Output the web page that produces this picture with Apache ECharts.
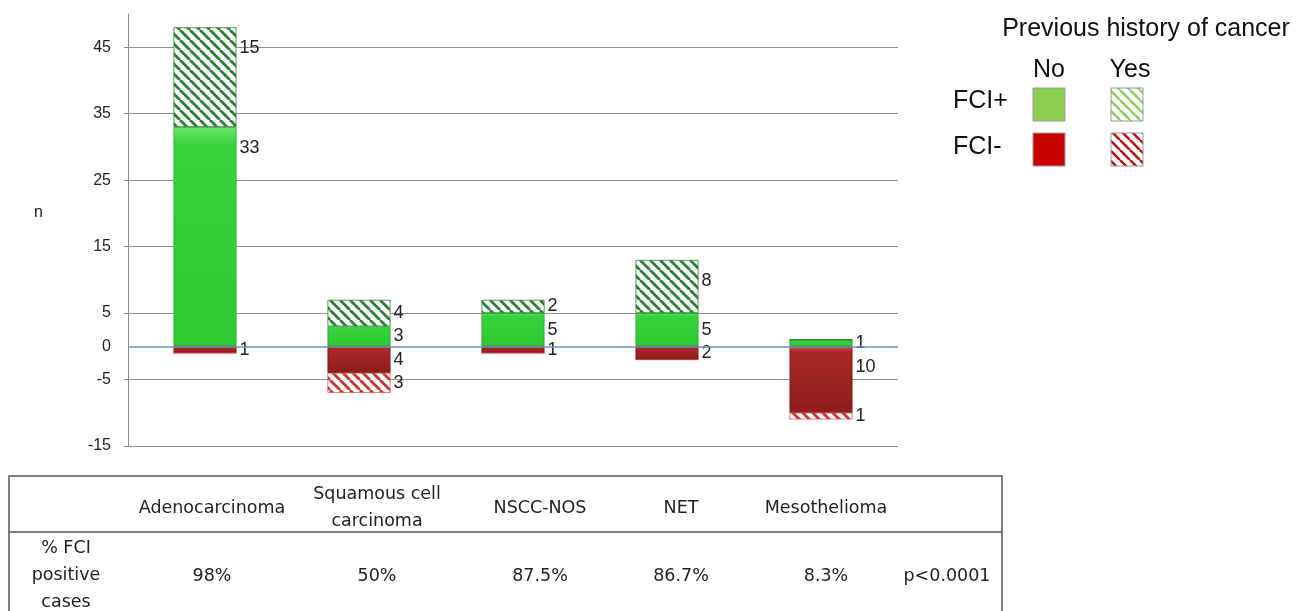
<!DOCTYPE html>
<html>
<head>
<meta charset="utf-8">
<script src="https://cdn.jsdelivr.net/npm/echarts@6/dist/echarts.min.js"></script>
<style>
html,body{margin:0;padding:0;background:#fff;}
#chart{width:1301px;height:611px;}
</style>
</head>
<body>
<div id="chart"></div>
<script>
// ---- data ----
const categories = ['Adenocarcinoma', 'Squamous cell carcinoma', 'NSCC-NOS', 'NET', 'Mesothelioma'];
const tableHeaders = [['Adenocarcinoma'], ['Squamous cell', 'carcinoma'], ['NSCC-NOS'], ['NET'], ['Mesothelioma']];
const fciPosNo = [33, 3, 5, 5, 1];
const fciPosYes = [15, 4, 2, 8, 0];
const fciNegNo = [1, 4, 1, 2, 10];
const fciNegYes = [0, 3, 0, 0, 1];
const pctPositive = ['98%', '50%', '87.5%', '86.7%', '8.3%'];
const rowLabel = ['% FCI', 'positive', 'cases'];
const pValue = 'p<0.0001';
const legendTitle = 'Previous history of cancer';
const legendCols = ['No', 'Yes'];
const legendRows = ['FCI+', 'FCI-'];
const yMin = -15, yMax = 50, yInterval = 10;

// ---- hatch patterns ----
function hatch(stripe, bg, size, lw) {
  const c = document.createElement('canvas');
  c.width = size; c.height = size;
  const g = c.getContext('2d');
  g.fillStyle = bg; g.fillRect(0, 0, size, size);
  g.strokeStyle = stripe; g.lineWidth = lw;
  for (const k of [-size, 0, size]) {
    g.beginPath(); g.moveTo(k, 0); g.lineTo(k + size, size); g.stroke();
  }
  return c;
}
const greenHatch = hatch('#2d7d35', '#ffffff', 10, 2.8);
const redHatch = hatch('#cc3333', '#ffffff', 10, 2.8);
const greenHatchLegend = hatch('#8ccc5a', '#ffffff', 10, 2.4);
const redHatchLegend = hatch('#b41515', '#ffffff', 10, 2.6);

const FONT = 'Liberation Sans, Arial, sans-serif';
const TFONT = 'DejaVu Sans, sans-serif';

const labelCfg = {
  show: true,
  position: 'right',
  fontSize: 18,
  color: '#222',
  fontFamily: FONT,
  formatter: p => (p.value === 0 ? '' : String(Math.abs(p.value)))
};
// place each value label beside the upper part of its segment
function labelLayout(params) {
  const r = params.rect;
  const top = Math.min(r.y, r.y + r.height);
  const h = Math.abs(r.height);
  return {
    x: Math.max(r.x, r.x + r.width) + 3,
    y: top + Math.min(h / 2, 21),
    align: 'left',
    verticalAlign: 'middle'
  };
}

function vgrad(top, mid, bot) {
  return {
    type: 'linear', x: 0, y: 0, x2: 0, y2: 1,
    colorStops: [{offset: 0, color: top}, {offset: 0.08, color: mid}, {offset: 1, color: bot}]
  };
}

const chart = echarts.init(document.getElementById('chart'), null, {renderer: 'canvas'});

// ---- table & legend graphics ----
const tableColX = [212, 377, 540, 681, 826];
const graphics = [];
graphics.push({type: 'text', left: 34, top: 205, style: {text: 'n', font: '16px ' + FONT, fill: '#222'}});
// legend
const LF = '25px ' + FONT;
graphics.push({type: 'text', x: 1146, y: 29, style: {text: legendTitle, font: LF, fill: '#111', align: 'center', verticalAlign: 'middle'}});
graphics.push({type: 'text', x: 1049, y: 70, style: {text: legendCols[0], font: LF, fill: '#111', align: 'center', verticalAlign: 'middle'}});
graphics.push({type: 'text', x: 1130, y: 70, style: {text: legendCols[1], font: LF, fill: '#111', align: 'center', verticalAlign: 'middle'}});
graphics.push({type: 'text', x: 953, y: 101, style: {text: legendRows[0], font: LF, fill: '#111', align: 'left', verticalAlign: 'middle'}});
graphics.push({type: 'text', x: 953, y: 147, style: {text: legendRows[1], font: LF, fill: '#111', align: 'left', verticalAlign: 'middle'}});
graphics.push({type: 'rect', shape: {x: 1033, y: 88, width: 32, height: 33}, style: {fill: '#8ccf4e', stroke: '#9a9a9a', lineWidth: 1}});
graphics.push({type: 'rect', shape: {x: 1111, y: 88, width: 32, height: 33}, style: {fill: {image: greenHatchLegend, repeat: 'repeat'}, stroke: '#9a9a9a', lineWidth: 1}});
graphics.push({type: 'rect', shape: {x: 1033, y: 133, width: 32, height: 33}, style: {fill: '#c80000', stroke: '#9a9a9a', lineWidth: 1}});
graphics.push({type: 'rect', shape: {x: 1111, y: 133, width: 32, height: 33}, style: {fill: {image: redHatchLegend, repeat: 'repeat'}, stroke: '#9a9a9a', lineWidth: 1}});
// table frame
graphics.push({type: 'polyline', shape: {points: [[9, 640], [9, 476], [1002, 476], [1002, 640]]}, style: {stroke: '#555', lineWidth: 1.5, fill: null}});
graphics.push({type: 'line', shape: {x1: 9, y1: 532, x2: 1002, y2: 532}, style: {stroke: '#555', lineWidth: 1.5}});
const TF = '17.5px ' + TFONT;
tableHeaders.forEach((lines, i) => {
  const y0 = lines.length === 1 ? 508 : 494;
  lines.forEach((t, j) => {
    graphics.push({type: 'text', x: tableColX[i], y: y0 + j * 27, style: {text: t, font: TF, fill: '#222', align: 'center', verticalAlign: 'middle'}});
  });
});
rowLabel.forEach((t, j) => {
  graphics.push({type: 'text', x: 66, y: 548 + j * 27, style: {text: t, font: TF, fill: '#222', align: 'center', verticalAlign: 'middle'}});
});
pctPositive.forEach((t, i) => {
  graphics.push({type: 'text', x: tableColX[i], y: 576, style: {text: t, font: TF, fill: '#222', align: 'center', verticalAlign: 'middle'}});
});
graphics.push({type: 'text', x: 947, y: 576, style: {text: pValue, font: TF, fill: '#222', align: 'center', verticalAlign: 'middle'}});

const option = {
  animation: false,
  backgroundColor: '#fff',
  grid: {left: 128, right: 403, top: 14, bottom: 165},
  xAxis: {
    type: 'category', data: categories,
    axisLine: {show: false}, axisTick: {show: false}, axisLabel: {show: false}, splitLine: {show: false}
  },
  yAxis: {
    type: 'value', min: yMin, max: yMax, interval: yInterval,
    axisLine: {show: true, lineStyle: {color: '#8a8a8a', width: 1}},
    axisTick: {show: true, length: 4, lineStyle: {color: '#8a8a8a'}},
    axisLabel: {fontSize: 16, color: '#222', fontFamily: FONT, margin: 17, showMaxLabel: false},
    splitLine: {show: true, showMaxLine: false, lineStyle: {color: '#8f8f8f', width: 1}}
  },
  series: [
    {
      name: 'FCI+ No', type: 'bar', stack: 'n', barWidth: 63, data: fciPosNo,
      itemStyle: {color: vgrad('#6fe56f', '#38d33c', '#2fc833'), borderColor: '#2aa02e', borderWidth: 0.8},
      label: labelCfg, labelLayout: labelLayout,
      markLine: {
        silent: true, symbol: 'none',
        lineStyle: {color: '#6f8fbf', width: 1.5, type: 'solid'},
        label: {show: true, position: 'start', formatter: '0', fontSize: 16, color: '#222', fontFamily: FONT, distance: 17},
        data: [{yAxis: 0}]
      }
    },
    {
      name: 'FCI+ Yes', type: 'bar', stack: 'n', barWidth: 63, data: fciPosYes,
      itemStyle: {color: {image: greenHatch, repeat: 'repeat'}, borderColor: '#2d7d35', borderWidth: 0.8},
      label: labelCfg, labelLayout: labelLayout
    },
    {
      name: 'FCI- No', type: 'bar', stack: 'n', barWidth: 63, data: fciNegNo.map(v => -v),
      itemStyle: {color: vgrad('#d2574a', '#a92a26', '#8e1c1c'), borderColor: '#7a1515', borderWidth: 0.8},
      label: labelCfg, labelLayout: labelLayout
    },
    {
      name: 'FCI- Yes', type: 'bar', stack: 'n', barWidth: 63, data: fciNegYes.map(v => -v),
      itemStyle: {color: {image: redHatch, repeat: 'repeat'}, borderColor: '#cc3333', borderWidth: 0.6},
      label: labelCfg, labelLayout: labelLayout
    }
  ],
  graphic: graphics
};
chart.setOption(option);
</script>
</body>
</html>
